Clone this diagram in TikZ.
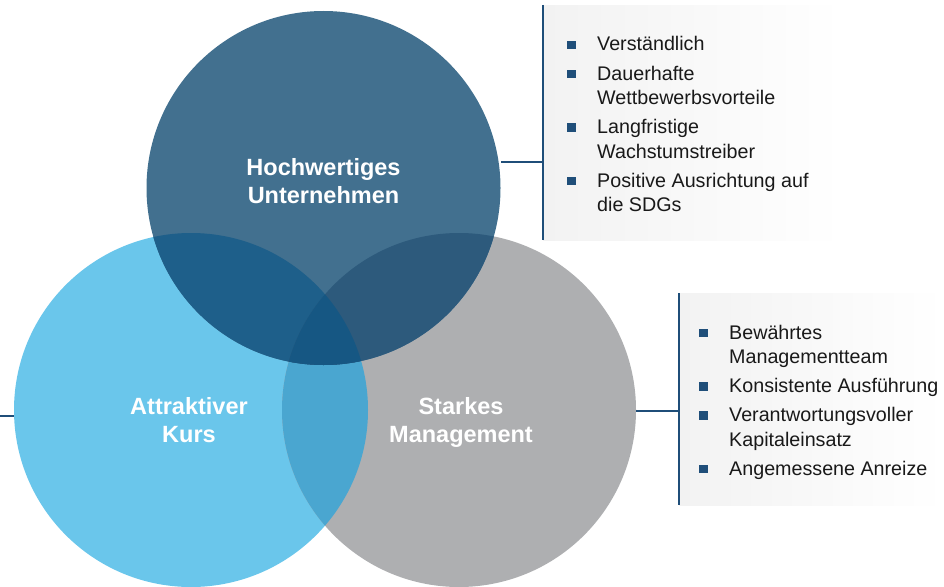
\documentclass[tikz,border=0pt]{standalone}
\usepackage{fontspec}
\setmainfont{Liberation Sans}
\definecolor{cTop}{HTML}{42708F}
\definecolor{cLeft}{HTML}{6AC6EB}
\definecolor{cRight}{HTML}{AEAFB1}
\definecolor{cTL}{HTML}{1E5F8A}
\definecolor{cTR}{HTML}{2D5A7C}
\definecolor{cLR}{HTML}{4AA6D0}
\definecolor{cAll}{HTML}{165783}
\definecolor{cLine}{HTML}{1F4E79}
\definecolor{cBox}{HTML}{F2F2F2}
\tikzset{
  venn/.style={circle, minimum size=354pt, inner sep=0pt, draw=none},
  lbl/.style={text=white, font=\fontsize{23.5}{28}\selectfont\bfseries, anchor=base, inner sep=0pt},
  itm/.style={font=\fontsize{19.7}{24}\selectfont, text=black!90, anchor=base west, inner sep=0pt},
  bul/.style={rectangle, fill=cLine, minimum size=8.5pt, inner sep=0pt},
  conn/.style={draw=cLine, line width=2pt},
  infobox/.style={rectangle, inner sep=0pt, left color=cBox, right color=white, draw=none}
}
\begin{document}
\begin{tikzpicture}[x=1pt,y=-1pt]
\useasboundingbox (0,0) rectangle (944,586);
% circles
\node[venn, fill=cLeft] (cl) at (191,410) {};
\node[venn, fill=cRight] (cr) at (459,410) {};
\node[venn, fill=cTop] (ct) at (323.5,188) {};
% overlaps
\begin{scope}
  \clip (191,410) circle (177);
  \fill[cLR] (459,410) circle (177);
  \fill[cTL] (323.5,188) circle (177);
\end{scope}
\begin{scope}
  \clip (459,410) circle (177);
  \fill[cTR] (323.5,188) circle (177);
\end{scope}
\begin{scope}
  \clip (191,410) circle (177);
  \clip (459,410) circle (177);
  \fill[cAll] (323.5,188) circle (177);
\end{scope}
% circle labels
\node[lbl] (t1) at (323.5,175) {Hochwertiges};
\node[lbl] (t2) at (323.5,203) {Unternehmen};
\node[lbl] (l1) at (189,414) {Attraktiver};
\node[lbl] (l2) at (189,442) {Kurs};
\node[lbl] (r1) at (461,414) {Starkes};
\node[lbl] (r2) at (461,442) {Management};
% info boxes
\node[infobox, minimum width=300pt, minimum height=235pt, anchor=north west] (boxA) at (543,5) {};
\node[infobox, minimum width=265pt, minimum height=212pt, anchor=north west] (boxB) at (679,293) {};
\draw[conn] (boxA.north west) -- (boxA.south west);
\draw[conn] (boxB.north west) -- (boxB.south west);
% connectors
\coordinate (ca) at (501,162);
\coordinate (cb) at (636,411);
\coordinate (cc0) at (0,416);
\coordinate (cc1) at (14,416);
\draw[conn] (ca) -- (ca -| boxA.west);
\draw[conn] (cb) -- (cb -| boxB.west);
\draw[conn] (cc0) -- (cc1);
% top box items
\node[bul] (ba1) at (571.5,45) {};
\node[itm] (a1) at (597,51) {Verständlich};
\node[bul] (ba2) at (571.5,74) {};
\node[itm] (a2) at (597,80) {Dauerhafte};
\node[itm] (a3) at (597,104.5) {Wettbewerbsvorteile};
\node[bul] (ba3) at (571.5,127.5) {};
\node[itm] (a4) at (597,133.5) {Langfristige};
\node[itm] (a5) at (597,158) {Wachstumstreiber};
\node[bul] (ba4) at (571.5,181) {};
\node[itm] (a6) at (597,187) {Positive Ausrichtung auf};
\node[itm] (a7) at (597,211.5) {die SDGs};
% right box items
\node[bul] (bb1) at (703.5,333) {};
\node[itm] (b1) at (729,339) {Bewährtes};
\node[itm] (b2) at (729,363.5) {Managementteam};
\node[bul] (bb2) at (703.5,386.5) {};
\node[itm] (b3) at (729,392.5) {Konsistente Ausführung};
\node[bul] (bb3) at (703.5,415.5) {};
\node[itm] (b4) at (729,421.5) {Verantwortungsvoller};
\node[itm] (b5) at (729,446) {Kapitaleinsatz};
\node[bul] (bb4) at (703.5,469) {};
\node[itm] (b6) at (729,475) {Angemessene Anreize};
\end{tikzpicture}
\end{document}
